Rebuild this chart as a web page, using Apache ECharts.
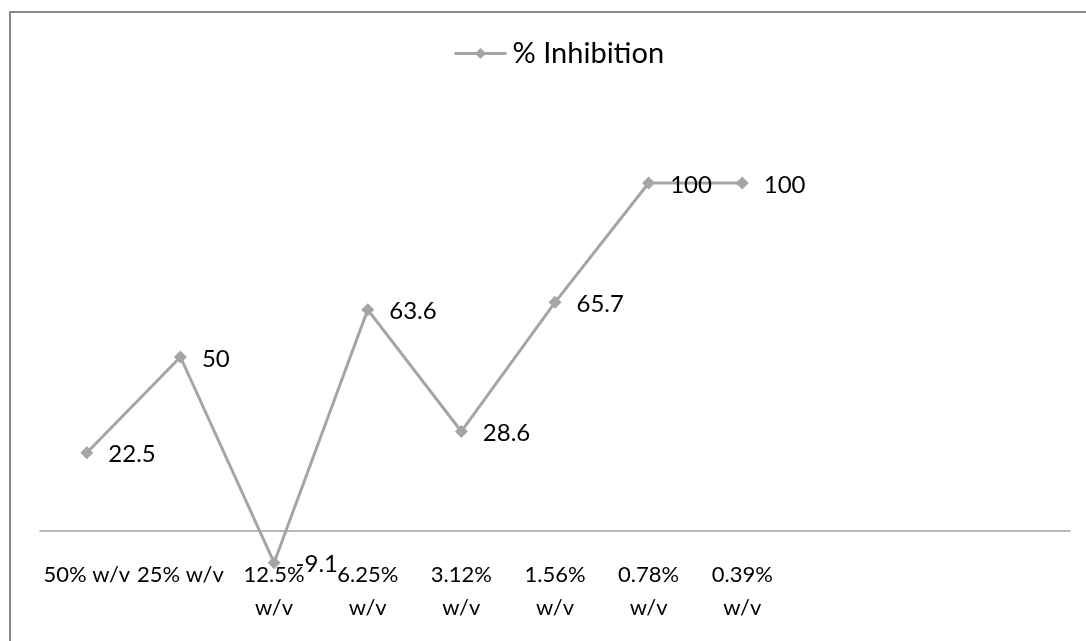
<!DOCTYPE html>
<html>
<head>
<meta charset="utf-8">
<script src="https://cdn.jsdelivr.net/npm/echarts@6/dist/echarts.min.js"></script>
<style>
  html, body { margin: 0; padding: 0; background: #fff; }
  #chart { width: 1086px; height: 641px; }
</style>
</head>
<body>
<div id="chart"></div>
<script>
// Concentration steps (tick labels) and the measured inhibition
const categories = ['50% w/v', '25% w/v', '12.5%\nw/v', '6.25%\nw/v', '3.12%\nw/v',
  '1.56%\nw/v', '0.78%\nw/v', '0.39%\nw/v', '', '', ''];
const inhibition = [22.5, 50, -9.1, 63.6, 28.6, 65.7, 100, 100];
const seriesName = '% Inhibition';

const FONT = 'Lato, "Open Sans", sans-serif';
const GREY = '#a5a5a5';

const chart = echarts.init(document.getElementById('chart'), null, { renderer: 'canvas' });
chart.setOption({
  animation: false,
  backgroundColor: '#ffffff',
  graphic: [{
    type: 'rect',
    shape: { x: 10, y: 12, width: 1200, height: 800 },
    style: { fill: 'none', stroke: '#888888', lineWidth: 2 },
    silent: true,
    z: 100
  }],
  legend: {
    top: 34,
    left: 448,
    itemWidth: 52,
    itemHeight: 14,
    itemGap: 6,
    lineStyle: { width: 3, color: GREY },
    itemStyle: { color: GREY },
    textStyle: { fontFamily: FONT, fontSize: 29, color: '#000', padding: [0, 0, 0, 1] },
    data: [seriesName]
  },
  grid: { left: 40, right: 16, top: 113.4, bottom: 40.4, containLabel: false, outerBoundsMode: 'none' },
  xAxis: {
    type: 'category',
    data: categories,
    boundaryGap: true,
    axisLine: { show: true, onZero: true, lineStyle: { color: '#a0a0a0', width: 1.5 } },
    axisTick: { show: false },
    axisLabel: {
      interval: 0,
      margin: -42,
      fontFamily: FONT,
      fontSize: 22,
      lineHeight: 33,
      color: '#000',
      verticalAlign: 'top'
    },
    splitLine: { show: false }
  },
  yAxis: {
    type: 'value',
    min: -20,
    max: 120,
    interval: 20,
    show: false,
    splitLine: { show: false }
  },
  series: [{
    name: seriesName,
    type: 'line',
    data: inhibition,
    symbol: 'diamond',
    symbolSize: 13,
    lineStyle: { color: GREY, width: 3 },
    itemStyle: { color: GREY },
    label: {
      show: true,
      position: 'right',
      distance: 15,
      fontFamily: FONT,
      fontSize: 24,
      color: '#000',
      offset: [0, 2]
    }
  }]
});
</script>
</body>
</html>
